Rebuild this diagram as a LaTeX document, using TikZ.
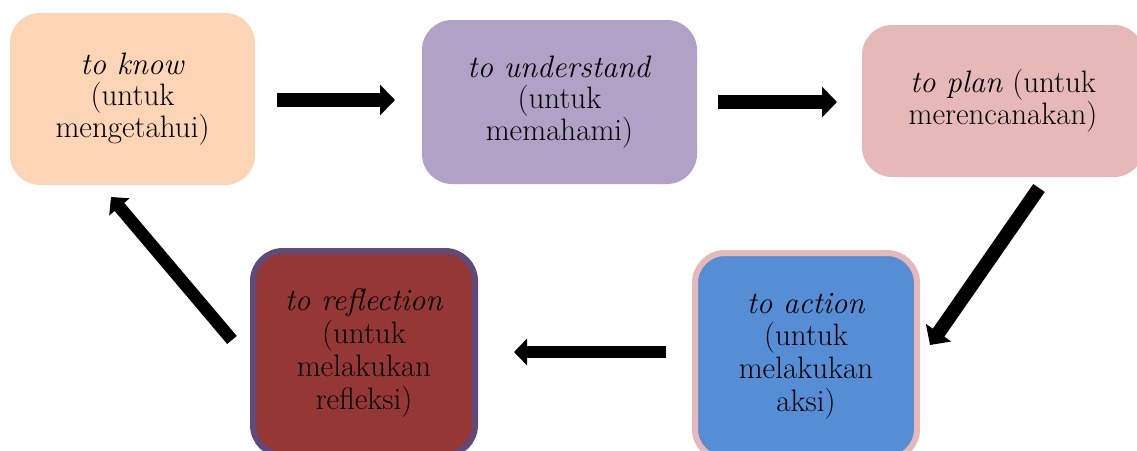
\documentclass[tikz,border=0pt]{standalone}
\usetikzlibrary{arrows.meta}
\definecolor{cknow}{HTML}{FBD5B5}
\definecolor{cund}{HTML}{B2A1C7}
\definecolor{cplan}{HTML}{E6B9B8}
\definecolor{cact}{HTML}{558ED5}
\definecolor{cref}{HTML}{953735}
\definecolor{cpurple}{HTML}{604A7B}
\tikzset{
  box/.style={rounded corners=30pt, align=center, inner sep=0pt,
    font=\fontsize{31}{30.5}\selectfont},
  lowbox/.style={box, line width=6pt, font=\fontsize{31}{32.7}\selectfont},
  bigarrow/.style={line width=14pt, -{Triangle[width=30pt,length=15pt]}},
  smallarrow/.style={line width=12.5pt, -{Triangle[width=26pt,length=13pt]}}
}
\begin{document}
\begin{tikzpicture}[x=1pt,y=-1pt]
\useasboundingbox (0,0) rectangle (1137,450);
\clip (0,0) rectangle (1137,450);
\node[box, fill=cknow, minimum width=245pt, minimum height=172pt] (know) at (132.5,99)
  {\textit{to know}\\(untuk\\mengetahui)};
\node[box, fill=cund, minimum width=275pt, minimum height=164pt] (und) at (559.5,102)
  {\textit{to understand}\\(untuk\\memahami)};
\node[box, fill=cplan, minimum width=282pt, minimum height=152pt] (plan) at (1003,101)
  {\textit{to plan} (untuk\\merencanakan)};
\node[lowbox, fill=cact, draw=cplan, minimum width=222pt, minimum height=206pt] (act) at (806,356)
  {\textit{to action}\\(untuk\\melakukan\\aksi)};
\node[lowbox, fill=cref, draw=cpurple, minimum width=222pt, minimum height=204pt] (ref) at (364,353)
  {\textit{to reflection}\\(untuk\\melakukan\\refleksi)};
\coordinate (a1s) at (277,100);  \coordinate (a1e) at (395,100);
\coordinate (a2s) at (718,102);  \coordinate (a2e) at (837,102);
\coordinate (a3s) at (1039,188); \coordinate (a3e) at (930,345);
\coordinate (a4s) at (666,352);  \coordinate (a4e) at (514,352);
\coordinate (a5s) at (232,340);  \coordinate (a5e) at (111,197);
\draw[bigarrow] (a1s) -- (a1e);
\draw[bigarrow] (a2s) -- (a2e);
\draw[bigarrow] (a3s) -- (a3e);
\draw[smallarrow] (a4s) -- (a4e);
\draw[smallarrow] (a5s) -- (a5e);
\end{tikzpicture}
\end{document}
